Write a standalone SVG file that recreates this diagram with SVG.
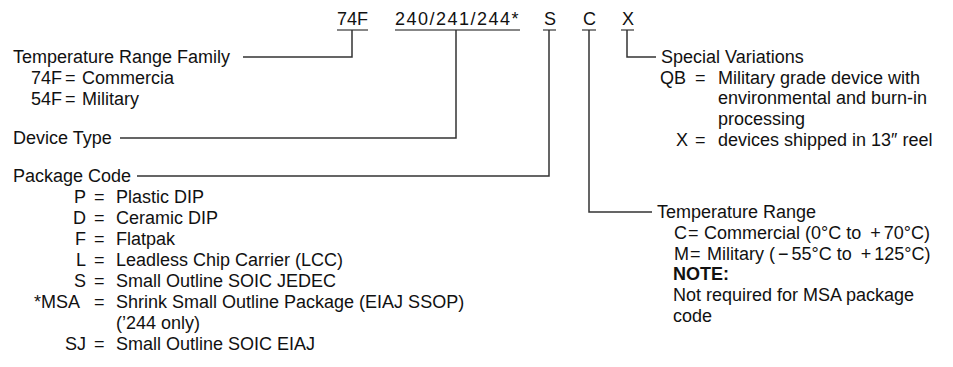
<svg xmlns="http://www.w3.org/2000/svg" width="953" height="367" viewBox="0 0 953 367">
<style>
text{font-family:"Liberation Sans",Arial,Helvetica,sans-serif;font-size:18px;fill:#111}
.b{font-weight:bold}
.e{text-anchor:end}
.c{fill:none;stroke:#333;stroke-width:1.5}
.u{fill:none;stroke:#111;stroke-width:1.2}
</style>
<rect width="953" height="367" fill="#fff"/>
<g id="code">
<text x="337" y="25">74F</text>
<text x="395" y="25" letter-spacing="1.5">240/241/244*</text>
<text x="544" y="25">S</text>
<text x="583" y="25">C</text>
<text x="622" y="25">X</text>
<path class="u" d="M337,30H368M395,30H520M543,30H556M582,30H596M621,30H634"/>
</g>
<g id="connectors">
<path class="c" d="M352,30V57H243"/>
<path class="c" d="M456,30V138H120"/>
<path class="c" d="M549,30V176H137"/>
<path class="c" d="M589,30V212H652"/>
<path class="c" d="M627,30V57H656"/>
</g>
<g id="family">
<text x="13" y="63">Temperature Range Family</text>
<text x="31" y="84">74F</text><text x="65" y="84">=</text><text x="82" y="84">Commercia</text>
<text x="31" y="105">54F</text><text x="65" y="105">=</text><text x="82" y="105">Military</text>
</g>
<g id="device">
<text x="13" y="144">Device Type</text>
</g>
<g id="package">
<text x="13" y="182">Package Code</text>
<text class="e" x="86" y="203">P</text><text x="94" y="203">=</text><text x="116" y="203">Plastic DIP</text>
<text class="e" x="86" y="224">D</text><text x="94" y="224">=</text><text x="116" y="224">Ceramic DIP</text>
<text class="e" x="86" y="245">F</text><text x="94" y="245">=</text><text x="116" y="245">Flatpak</text>
<text class="e" x="86" y="266">L</text><text x="94" y="266">=</text><text x="116" y="266">Leadless Chip Carrier (LCC)</text>
<text class="e" x="86" y="287">S</text><text x="94" y="287">=</text><text x="116" y="287">Small Outline SOIC JEDEC</text>
<text class="e" x="80" y="308">*MSA</text><text x="94" y="308">=</text><text x="116" y="308">Shrink Small Outline Package (EIAJ SSOP)</text>
<text x="116" y="329">(’244 only)</text>
<text class="e" x="86" y="350">SJ</text><text x="94" y="350">=</text><text x="116" y="350">Small Outline SOIC EIAJ</text>
</g>
<g id="special">
<text x="661" y="63">Special Variations</text>
<text class="e" x="686" y="84">QB</text><text x="695" y="84">=</text><text x="718" y="84">Military grade device with</text>
<text x="718" y="104">environmental and burn-in</text>
<text x="718" y="125">processing</text>
<text class="e" x="688" y="146">X</text><text x="695" y="146">=</text><text x="718" y="146">devices shipped in 13″ reel</text>
</g>
<g id="temprange">
<text x="657" y="218">Temperature Range</text>
<text x="674" y="239">C</text><text x="688" y="239">=</text><text x="704" y="239">Commercial (0°C to <tspan dx="4">+</tspan><tspan dx="3">70°C)</tspan></text>
<text x="674" y="260">M</text><text x="690" y="260">=</text><text x="707" y="260">Military (<tspan dx="3">−</tspan><tspan dx="3">55°C to </tspan><tspan dx="4">+</tspan><tspan dx="3">125°C)</tspan></text>
<text class="b" x="673" y="280">NOTE:</text>
<text x="673" y="301">Not required for MSA package</text>
<text x="673" y="322">code</text>
</g>
</svg>
